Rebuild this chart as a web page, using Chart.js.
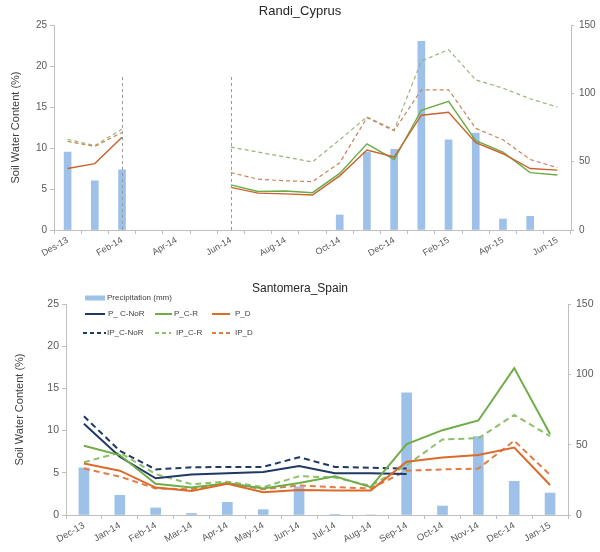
<!DOCTYPE html>
<html><head><meta charset="utf-8">
<script src="https://cdn.jsdelivr.net/npm/chart.js@4.4.1/dist/chart.umd.min.js"></script>
<style>
html,body{margin:0;padding:0;background:#fff;width:600px;height:552px;overflow:hidden;font-family:"Liberation Sans",Arial,sans-serif;}
#topBox{position:absolute;left:0;top:0;width:600px;height:262px;}
#botBox{position:absolute;left:0;top:262px;width:600px;height:290px;}
#legend{position:absolute;left:0;top:0;width:600px;height:552px;pointer-events:none;}
.lt{position:absolute;font-size:8px;color:#404040;white-space:nowrap;line-height:10px;}
.ls{position:absolute;}
</style></head><body>
<div id="topBox"><canvas id="topChart"></canvas></div>
<div id="botBox"><canvas id="botChart"></canvas></div>
<div id="legend"></div>
<script>
// ---------- Randi_Cyprus ----------
const topMonths = ['Des-13','Jan-14','Feb-14','Mar-14','Apr-14','May-14','Jun-14','Jul-14','Aug-14','Sep-14','Oct-14','Nov-14','Dec-14','Jan-15','Feb-15','Mar-15','Apr-15','May-15','Jun-15'];
const topTickLabels = ['Des-13','Feb-14','Apr-14','Jun-14','Aug-14','Oct-14','Dec-14','Feb-15','Apr-15','Jun-15'];
const topPrecip = [57, 36, 44, null, null, null, null, null, null, null, 11, 57, 59, 138, 66, 71, 8, 10, null];
const topP_CR   = [null, null, null, null, null, null, 5.5, 4.7, 4.75, 4.55, 6.9, 10.5, 8.6, 14.6, 15.7, 10.9, 9.5, 7.0, 6.7];
const topP_D    = [7.5, 8.1, 11.3, null, null, null, 5.2, 4.5, 4.4, 4.27, 6.6, 9.75, 8.9, 14.0, 14.35, 10.65, 9.3, 7.5, 7.3];
const topIP_CR  = [11.05, 10.3, 12.3, null, null, null, 10.1, 9.5, 8.9, 8.3, 11.0, 13.8, 12.2, 20.6, 22.0, 18.3, 17.3, 16.0, 15.0];
const topIP_D   = [10.8, 10.2, 11.9, null, null, null, 7.0, 6.2, 6.0, 5.9, 8.2, 13.7, 12.1, 17.1, 17.1, 12.4, 11.0, 8.6, 7.6];
const topMarkerMonths = ['Feb-14','Jun-14'];
const topMarkerHeight = 19;

// ---------- Santomera_Spain ----------
const botMonths = ['Dec-13','Jan-14','Feb-14','Mar-14','Apr-14','May-14','Jun-14','Jul-14','Aug-14','Sep-14','Oct-14','Nov-14','Dec-14','Jan-15'];
const botPrecip   = [33.5, 14, 5, 1.1, 9, 3.8, 20, 0.3, 0, 86.8, 6.4, 55.8, 23.9, 15.6];
const botP_CNoR   = [10.8, 6.9, 4.35, 4.8, 4.95, 5.1, 5.8, 4.95, 4.95, 4.85, null, null, null, null];
const botP_CR     = [8.2, 7.1, 3.7, 3.25, 3.75, 3.15, 3.8, 4.6, 3.3, 8.4, 10.05, 11.2, 17.4, 9.6];
const botP_D      = [6.1, 5.25, 3.25, 2.85, 3.7, 2.7, 2.95, 2.9, 2.9, 6.3, 6.8, 7.1, 8.0, 3.55];
const botIP_CNoR  = [11.7, 7.6, 5.4, 5.65, 5.7, 5.7, 6.85, 5.7, 5.6, 5.5, null, null, null, null];
const botIP_CR    = [6.25, 7.4, 4.85, 3.65, 3.95, 3.3, 4.6, 4.45, 3.45, 5.9, 8.95, 9.1, 11.85, 9.35];
const botIP_D     = [5.5, 4.55, 3.15, 3.05, 3.8, 3.05, 3.5, 3.3, 3.15, 5.25, 5.4, 5.5, 8.8, 4.75];

const seriesNames = ['Precipitation (mm)','P_ C-NoR','P_C-R','P_D','IP_C-NoR','IP_C-R','IP_D'];

Chart.defaults.font.family = "'Liberation Sans', Arial, sans-serif";
const barColor = 'rgb(157,193,232)';
const axisColor = '#bfbfbf';
const tickColor = '#595959';

function lineDs(label, data, color, width, dash, order) {
  return {type:'line', label, data, yAxisID:'y', borderColor:color, backgroundColor:color,
    borderWidth:width, borderDash:dash, pointRadius:0, fill:false, tension:0, spanGaps:false, order};
}

function makeScales(o) {
  return {
    x: {
      offset:true,
      grid:{offset:true, drawOnChartArea:false, tickLength:4, color:axisColor},
      border:{color:axisColor},
      ticks:{autoSkip:false, maxRotation:30, minRotation:30, font:{size:o.xFont}, color:tickColor, padding:1,
        callback:function(v){ const l=this.getLabelForValue(v); return o.tickLabels.includes(l) ? l : ''; }},
      afterFit:s=>{ s.height = o.xH; }
    },
    y: {
      position:'left', min:0, max:25,
      ticks:{stepSize:5, font:{size:o.yFont}, color:tickColor, padding:3},
      grid:{drawOnChartArea:false, tickLength:4, color:axisColor},
      border:{color:axisColor},
      title:{display:true, text:'Soil Water Content (%)', font:{size:11}, color:'#404040', padding:{top:o.titlePad, bottom:0}},
      afterFit:s=>{ s.width = o.yW; }
    },
    y2: {
      position:'right', min:0, max:150,
      ticks:{stepSize:50, font:{size:o.yFont}, color:tickColor, padding:5},
      grid:{drawOnChartArea:false, tickLength:3, color:axisColor},
      border:{color:axisColor},
      afterFit:s=>{ s.width = o.y2W; }
    }
  };
}

const markerPlugin = {
  id:'markers',
  afterDatasetsDraw(chart){
    const xs = chart.scales.x, ys = chart.scales.y, ctx = chart.ctx;
    ctx.save();
    ctx.strokeStyle = '#9a9a9a'; ctx.lineWidth = 1; ctx.setLineDash([3,3]);
    topMarkerMonths.forEach(m=>{
      const x = Math.round(xs.getPixelForValue(chart.data.labels.indexOf(m))) + 0.5;
      ctx.beginPath();
      ctx.moveTo(x, ys.getPixelForValue(0));
      ctx.lineTo(x, ys.getPixelForValue(topMarkerHeight));
      ctx.stroke();
    });
    ctx.restore();
  }
};

const topChart = new Chart(document.getElementById('topChart'), {
  type:'bar',
  data:{labels:topMonths, datasets:[
    {type:'bar', label:seriesNames[0], data:topPrecip, yAxisID:'y2', backgroundColor:barColor, barThickness:7, order:10},
    lineDs(seriesNames[5], topIP_CR, '#98b47e', 1.2, [4,3], 4),
    lineDs(seriesNames[6], topIP_D, '#c98358', 1.2, [4,3], 3),
    lineDs(seriesNames[2], topP_CR, '#6aab48', 1.4, [], 2),
    lineDs(seriesNames[3], topP_D, '#c8642c', 1.4, [], 1)
  ]},
  options:{
    responsive:true, maintainAspectRatio:false, animation:false, devicePixelRatio:1,
    layout:{padding:0},
    plugins:{
      legend:{display:false}, tooltip:{enabled:false},
      title:{display:true, text:'Randi_Cyprus', font:{size:13, weight:'normal'}, color:'#262626', padding:{top:4, bottom:5.4}}
    },
    scales:makeScales({tickLabels:topTickLabels, xFont:9, yFont:10, xH:32, yW:54, y2W:29, titlePad:9.4})
  },
  plugins:[markerPlugin]
});

const botColors = {navy:'#203864', green:'#70ad47', greenD:'#8cc06a', orange:'#dc6a2a', orangeD:'#e07d45'};
const botChart = new Chart(document.getElementById('botChart'), {
  type:'bar',
  data:{labels:botMonths, datasets:[
    {type:'bar', label:seriesNames[0], data:botPrecip, yAxisID:'y2', backgroundColor:barColor, barThickness:10, order:10},
    lineDs(seriesNames[1], botP_CNoR, botColors.navy, 2, [], 3),
    lineDs(seriesNames[2], botP_CR, botColors.green, 2, [], 2),
    lineDs(seriesNames[3], botP_D, botColors.orange, 2, [], 1),
    lineDs(seriesNames[4], botIP_CNoR, botColors.navy, 2, [6,4], 6),
    lineDs(seriesNames[5], botIP_CR, botColors.greenD, 2, [6,4], 5),
    lineDs(seriesNames[6], botIP_D, botColors.orangeD, 2, [6,4], 4)
  ]},
  options:{
    responsive:true, maintainAspectRatio:false, animation:false, devicePixelRatio:1,
    layout:{padding:0},
    plugins:{
      legend:{display:false}, tooltip:{enabled:false},
      title:{display:true, text:'Santomera_Spain', font:{size:12, weight:'normal'}, color:'#262626', padding:{top:19.3, bottom:8.3}}
    },
    scales:makeScales({tickLabels:botMonths, xFont:9.5, yFont:10.5, xH:37, yW:66, y2W:32, titlePad:13.4})
  }
});

// HTML legend for the lower chart (page coordinates)
const legendSlots = [
  {x0:85, x1:105, tx:107, y:297.5},
  {x0:85, x1:105, tx:108, y:314},
  {x0:155, x1:172, tx:174, y:314},
  {x0:212, x1:230, tx:235, y:314},
  {x0:83, x1:106, tx:107, y:333},
  {x0:155, x1:171, tx:176, y:333},
  {x0:212, x1:230, tx:235, y:333}
];
const leg = document.getElementById('legend');
botChart.data.datasets.forEach((ds, i)=>{
  const s = legendSlots[i];
  const w = s.x1 - s.x0;
  const svg = document.createElementNS('http://www.w3.org/2000/svg','svg');
  svg.setAttribute('width', w); svg.setAttribute('height', 8);
  svg.setAttribute('class','ls');
  svg.style.left = s.x0 + 'px'; svg.style.top = (s.y - 4) + 'px';
  const ln = document.createElementNS('http://www.w3.org/2000/svg','line');
  ln.setAttribute('x1',0); ln.setAttribute('x2',w); ln.setAttribute('y1',4); ln.setAttribute('y2',4);
  ln.setAttribute('stroke', ds.type==='bar' ? ds.backgroundColor : ds.borderColor);
  ln.setAttribute('stroke-width', ds.type==='bar' ? 5 : 2);
  if (ds.borderDash && ds.borderDash.length) ln.setAttribute('stroke-dasharray', '4 3');
  svg.appendChild(ln);
  leg.appendChild(svg);
  const t = document.createElement('div');
  t.className = 'lt'; t.textContent = ds.label;
  t.style.left = s.tx + 'px'; t.style.top = (s.y - 5) + 'px';
  leg.appendChild(t);
});
</script>
</body></html>
